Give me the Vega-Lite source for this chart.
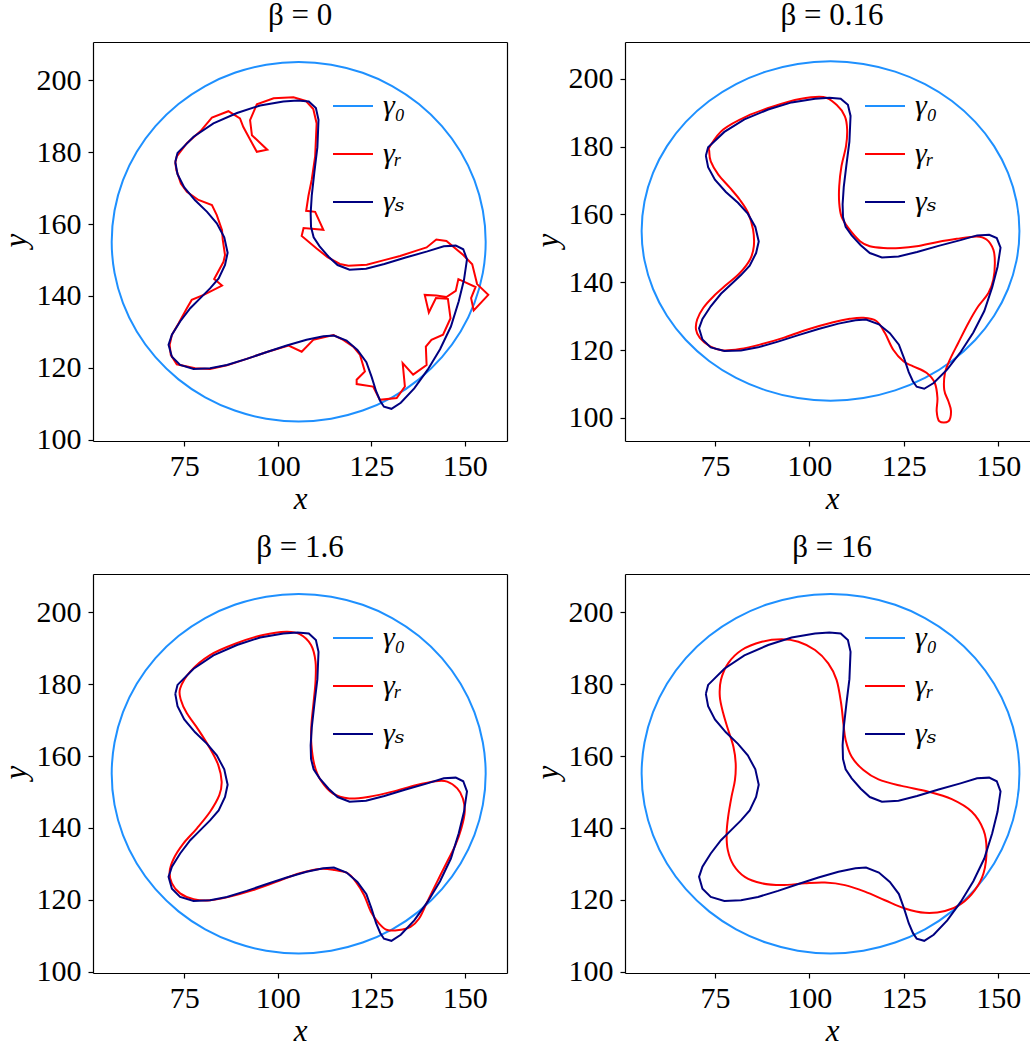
{
"$schema": "https://vega.github.io/schema/vega-lite/v6.json",
"background": "white",
"padding": {"left": 0, "top": 0, "right": 0, "bottom": 0},
"datasets": {
"circle": [
{"i":0,"x":155.6,"y":155.1},{"i":1,"x":154.84,"y":163.78},{"i":2,"x":152.58,"y":172.2},{"i":3,"x":148.9,"y":180.1},{"i":4,"x":143.9,"y":187.24},{"i":5,"x":137.74,"y":193.4},{"i":6,"x":130.6,"y":198.4},{"i":7,"x":122.7,"y":202.08},{"i":8,"x":114.28,"y":204.34},{"i":9,"x":105.6,"y":205.1},{"i":10,"x":96.92,"y":204.34},{"i":11,"x":88.5,"y":202.08},{"i":12,"x":80.6,"y":198.4},{"i":13,"x":73.46,"y":193.4},{"i":14,"x":67.3,"y":187.24},{"i":15,"x":62.3,"y":180.1},{"i":16,"x":58.62,"y":172.2},{"i":17,"x":56.36,"y":163.78},{"i":18,"x":55.6,"y":155.1},{"i":19,"x":56.36,"y":146.42},{"i":20,"x":58.62,"y":138.0},{"i":21,"x":62.3,"y":130.1},{"i":22,"x":67.3,"y":122.96},{"i":23,"x":73.46,"y":116.8},{"i":24,"x":80.6,"y":111.8},{"i":25,"x":88.5,"y":108.12},{"i":26,"x":96.92,"y":105.86},{"i":27,"x":105.6,"y":105.1},{"i":28,"x":114.28,"y":105.86},{"i":29,"x":122.7,"y":108.12},{"i":30,"x":130.6,"y":111.8},{"i":31,"x":137.74,"y":116.8},{"i":32,"x":143.9,"y":122.96},{"i":33,"x":148.9,"y":130.1},{"i":34,"x":152.58,"y":138.0},{"i":35,"x":154.84,"y":146.42}
],
"gs": [
{"i":0,"x":72.6,"y":177.3},{"i":1,"x":73.2,"y":179.8},{"i":2,"x":77.5,"y":184.3},{"i":3,"x":82.8,"y":188.0},{"i":4,"x":89.1,"y":190.9},{"i":5,"x":95.3,"y":193.0},{"i":6,"x":101.5,"y":194.1},{"i":7,"x":105.3,"y":194.4},{"i":8,"x":108.3,"y":194.1},{"i":9,"x":110.2,"y":192.3},{"i":10,"x":110.9,"y":189.0},{"i":11,"x":110.6,"y":181.4},{"i":12,"x":109.8,"y":174.5},{"i":13,"x":109.1,"y":168.0},{"i":14,"x":108.8,"y":163.0},{"i":15,"x":108.9,"y":159.2},{"i":16,"x":109.6,"y":156.3},{"i":17,"x":111.2,"y":153.8},{"i":18,"x":113.6,"y":150.9},{"i":19,"x":116.0,"y":148.6},{"i":20,"x":119.2,"y":147.3},{"i":21,"x":123.6,"y":147.6},{"i":22,"x":128.5,"y":148.9},{"i":23,"x":134.2,"y":150.7},{"i":24,"x":140.0,"y":152.4},{"i":25,"x":144.4,"y":153.8},{"i":26,"x":147.6,"y":154.0},{"i":27,"x":149.6,"y":153.0},{"i":28,"x":150.6,"y":150.2},{"i":29,"x":149.8,"y":144.5},{"i":30,"x":148.4,"y":138.5},{"i":31,"x":146.3,"y":131.5},{"i":32,"x":143.4,"y":125.2},{"i":33,"x":140.1,"y":119.5},{"i":34,"x":136.5,"y":114.3},{"i":35,"x":132.9,"y":110.3},{"i":36,"x":130.4,"y":108.6},{"i":37,"x":128.4,"y":109.2},{"i":38,"x":127.4,"y":110.8},{"i":39,"x":126.3,"y":113.5},{"i":40,"x":125.1,"y":117.5},{"i":41,"x":123.7,"y":121.6},{"i":42,"x":121.3,"y":125.0},{"i":43,"x":118.4,"y":127.6},{"i":44,"x":115.0,"y":129.0},{"i":45,"x":112.2,"y":128.8},{"i":46,"x":107.7,"y":127.8},{"i":47,"x":102.4,"y":126.2},{"i":48,"x":97.1,"y":124.4},{"i":49,"x":91.7,"y":122.5},{"i":50,"x":86.4,"y":120.8},{"i":51,"x":81.9,"y":119.9},{"i":52,"x":77.5,"y":119.7},{"i":53,"x":73.9,"y":120.8},{"i":54,"x":71.7,"y":123.1},{"i":55,"x":70.8,"y":126.4},{"i":56,"x":71.7,"y":129.2},{"i":57,"x":73.9,"y":132.9},{"i":58,"x":76.6,"y":136.6},{"i":59,"x":79.3,"y":139.4},{"i":60,"x":81.9,"y":142.1},{"i":61,"x":84.2,"y":144.9},{"i":62,"x":85.9,"y":148.6},{"i":63,"x":86.6,"y":152.0},{"i":64,"x":85.7,"y":156.3},{"i":65,"x":83.7,"y":160.2},{"i":66,"x":81.1,"y":163.4},{"i":67,"x":77.9,"y":166.6},{"i":68,"x":75.0,"y":170.2},{"i":69,"x":73.2,"y":173.9},{"i":70,"x":72.6,"y":177.3}
],
"r0": [
{"i":0,"x":72.6,"y":177.1},{"i":1,"x":73.0,"y":178.8},{"i":2,"x":75.7,"y":182.5},{"i":3,"x":79.3,"y":185.8},{"i":4,"x":82.4,"y":189.6},{"i":5,"x":86.8,"y":191.4},{"i":6,"x":89.9,"y":189.4},{"i":7,"x":90.8,"y":187.0},{"i":8,"x":92.2,"y":184.3},{"i":9,"x":94.4,"y":180.1},{"i":10,"x":97.2,"y":180.7},{"i":11,"x":93.1,"y":184.7},{"i":12,"x":92.6,"y":188.9},{"i":13,"x":94.4,"y":193.3},{"i":14,"x":98.9,"y":195.0},{"i":15,"x":104.2,"y":195.3},{"i":16,"x":107.5,"y":194.3},{"i":17,"x":109.5,"y":192.0},{"i":18,"x":110.4,"y":188.0},{"i":19,"x":110.0,"y":178.8},{"i":20,"x":109.1,"y":172.4},{"i":21,"x":108.2,"y":167.8},{"i":22,"x":107.6,"y":163.7},{"i":23,"x":110.0,"y":163.4},{"i":24,"x":112.2,"y":158.4},{"i":25,"x":106.9,"y":158.9},{"i":26,"x":106.4,"y":156.7},{"i":27,"x":110.4,"y":153.2},{"i":28,"x":113.3,"y":150.8},{"i":29,"x":116.6,"y":148.9},{"i":30,"x":118.9,"y":148.4},{"i":31,"x":123.8,"y":148.7},{"i":32,"x":128.2,"y":149.9},{"i":33,"x":132.7,"y":151.1},{"i":34,"x":137.1,"y":152.6},{"i":35,"x":139.8,"y":153.5},{"i":36,"x":142.4,"y":155.7},{"i":37,"x":145.1,"y":155.3},{"i":38,"x":149.6,"y":151.4},{"i":39,"x":152.0,"y":148.8},{"i":40,"x":153.3,"y":143.3},{"i":41,"x":156.3,"y":140.3},{"i":42,"x":152.4,"y":136.0},{"i":43,"x":151.7,"y":139.4},{"i":44,"x":152.9,"y":142.5},{"i":45,"x":148.3,"y":144.7},{"i":46,"x":147.6,"y":141.4},{"i":47,"x":145.1,"y":139.7},{"i":48,"x":142.4,"y":140.1},{"i":49,"x":139.3,"y":140.3},{"i":50,"x":140.4,"y":135.4},{"i":51,"x":142.3,"y":139.4},{"i":52,"x":145.5,"y":139.2},{"i":53,"x":146.2,"y":133.8},{"i":54,"x":144.2,"y":129.2},{"i":55,"x":141.1,"y":127.8},{"i":56,"x":139.6,"y":125.9},{"i":57,"x":139.8,"y":120.8},{"i":58,"x":136.2,"y":118.1},{"i":59,"x":133.4,"y":121.3},{"i":60,"x":134.0,"y":114.8},{"i":61,"x":131.8,"y":111.6},{"i":62,"x":127.3,"y":111.1},{"i":63,"x":125.5,"y":114.8},{"i":64,"x":121.1,"y":115.5},{"i":65,"x":121.1,"y":116.7},{"i":66,"x":123.3,"y":119.0},{"i":67,"x":122.0,"y":123.6},{"i":68,"x":120.2,"y":125.9},{"i":69,"x":117.5,"y":127.8},{"i":70,"x":114.9,"y":129.1},{"i":71,"x":109.5,"y":127.8},{"i":72,"x":106.4,"y":124.5},{"i":73,"x":102.9,"y":126.2},{"i":74,"x":97.1,"y":124.4},{"i":75,"x":91.7,"y":122.5},{"i":76,"x":86.4,"y":120.7},{"i":77,"x":81.9,"y":119.7},{"i":78,"x":77.9,"y":119.9},{"i":79,"x":73.0,"y":121.0},{"i":80,"x":71.4,"y":123.6},{"i":81,"x":71.1,"y":126.4},{"i":82,"x":71.7,"y":129.2},{"i":83,"x":73.5,"y":132.4},{"i":84,"x":75.7,"y":136.6},{"i":85,"x":77.0,"y":138.9},{"i":86,"x":80.2,"y":140.3},{"i":87,"x":85.1,"y":142.9},{"i":88,"x":83.0,"y":144.7},{"i":89,"x":85.5,"y":149.5},{"i":90,"x":85.9,"y":151.4},{"i":91,"x":85.3,"y":155.6},{"i":92,"x":85.1,"y":158.3},{"i":93,"x":83.7,"y":162.5},{"i":94,"x":82.4,"y":165.3},{"i":95,"x":78.8,"y":166.7},{"i":96,"x":75.7,"y":169.0},{"i":97,"x":74.1,"y":171.3},{"i":98,"x":72.9,"y":175.0},{"i":99,"x":72.6,"y":177.1}
],
"r1": [
{"i":0,"x":73.5,"y":178.6},{"i":1,"x":73.7,"y":180.1},{"i":2,"x":77.2,"y":185.0},{"i":3,"x":83.4,"y":188.9},{"i":4,"x":90.4,"y":191.8},{"i":5,"x":97.5,"y":194.0},{"i":6,"x":103.7,"y":194.6},{"i":7,"x":107.2,"y":192.3},{"i":8,"x":109.4,"y":188.9},{"i":9,"x":110.0,"y":185.0},{"i":10,"x":109.7,"y":180.1},{"i":11,"x":108.5,"y":174.2},{"i":12,"x":107.9,"y":168.3},{"i":13,"x":107.9,"y":163.4},{"i":14,"x":108.5,"y":159.4},{"i":15,"x":110.3,"y":156.0},{"i":16,"x":113.4,"y":152.1},{"i":17,"x":116.0,"y":150.6},{"i":18,"x":119.6,"y":150.1},{"i":19,"x":124.0,"y":150.1},{"i":20,"x":128.4,"y":150.6},{"i":21,"x":133.7,"y":151.8},{"i":22,"x":139.0,"y":152.8},{"i":23,"x":144.3,"y":153.5},{"i":24,"x":146.9,"y":152.6},{"i":25,"x":148.7,"y":149.6},{"i":26,"x":149.1,"y":145.7},{"i":27,"x":148.7,"y":140.8},{"i":28,"x":147.4,"y":136.8},{"i":29,"x":144.7,"y":132.9},{"i":30,"x":142.1,"y":128.0},{"i":31,"x":139.4,"y":122.1},{"i":32,"x":137.2,"y":117.2},{"i":33,"x":135.9,"y":113.3},{"i":34,"x":135.7,"y":108.3},{"i":35,"x":136.8,"y":104.9},{"i":36,"x":137.5,"y":102.0},{"i":37,"x":136.8,"y":99.0},{"i":38,"x":134.4,"y":99.0},{"i":39,"x":133.7,"y":102.0},{"i":40,"x":133.9,"y":105.9},{"i":41,"x":133.2,"y":110.3},{"i":42,"x":131.0,"y":113.3},{"i":43,"x":127.5,"y":115.2},{"i":44,"x":124.9,"y":116.7},{"i":45,"x":122.2,"y":120.1},{"i":46,"x":120.0,"y":125.0},{"i":47,"x":117.8,"y":128.5},{"i":48,"x":114.3,"y":129.5},{"i":49,"x":110.7,"y":129.2},{"i":50,"x":106.3,"y":128.2},{"i":51,"x":99.3,"y":126.0},{"i":52,"x":93.1,"y":123.6},{"i":53,"x":86.9,"y":121.6},{"i":54,"x":81.6,"y":120.3},{"i":55,"x":77.2,"y":119.9},{"i":56,"x":73.7,"y":121.1},{"i":57,"x":71.0,"y":123.6},{"i":58,"x":70.0,"y":126.0},{"i":59,"x":70.3,"y":129.0},{"i":60,"x":71.9,"y":132.4},{"i":61,"x":74.6,"y":135.8},{"i":62,"x":78.1,"y":139.3},{"i":63,"x":81.6,"y":142.7},{"i":64,"x":84.3,"y":146.7},{"i":65,"x":85.3,"y":150.6},{"i":66,"x":85.1,"y":155.5},{"i":67,"x":83.8,"y":160.4},{"i":68,"x":81.6,"y":164.3},{"i":69,"x":79.0,"y":167.8},{"i":70,"x":75.9,"y":171.7},{"i":71,"x":73.9,"y":175.6}
],
"r2": [
{"i":0,"x":73.9,"y":178.8},{"i":1,"x":76.6,"y":183.5},{"i":2,"x":81.9,"y":188.1},{"i":3,"x":89.0,"y":191.4},{"i":4,"x":96.1,"y":193.7},{"i":5,"x":102.3,"y":194.6},{"i":6,"x":105.9,"y":193.9},{"i":7,"x":108.9,"y":190.9},{"i":8,"x":110.1,"y":186.3},{"i":9,"x":110.1,"y":180.7},{"i":10,"x":109.6,"y":175.1},{"i":11,"x":109.0,"y":168.6},{"i":12,"x":109.0,"y":163.1},{"i":13,"x":109.8,"y":157.5},{"i":14,"x":111.4,"y":153.4},{"i":15,"x":114.7,"y":149.6},{"i":16,"x":119.1,"y":148.2},{"i":17,"x":124.5,"y":148.7},{"i":18,"x":130.7,"y":150.1},{"i":19,"x":136.9,"y":151.9},{"i":20,"x":142.2,"y":153.0},{"i":21,"x":145.3,"y":152.9},{"i":22,"x":148.0,"y":151.0},{"i":23,"x":149.5,"y":148.2},{"i":24,"x":150.0,"y":144.5},{"i":25,"x":149.1,"y":139.9},{"i":26,"x":147.5,"y":135.2},{"i":27,"x":145.3,"y":130.6},{"i":28,"x":142.6,"y":125.0},{"i":29,"x":140.0,"y":119.5},{"i":30,"x":137.8,"y":114.8},{"i":31,"x":135.5,"y":112.5},{"i":32,"x":132.4,"y":111.6},{"i":33,"x":129.3,"y":111.6},{"i":34,"x":127.1,"y":113.4},{"i":35,"x":124.9,"y":116.7},{"i":36,"x":123.1,"y":121.3},{"i":37,"x":120.9,"y":125.0},{"i":38,"x":118.7,"y":127.4},{"i":39,"x":115.2,"y":128.3},{"i":40,"x":111.2,"y":128.6},{"i":41,"x":105.9,"y":127.4},{"i":42,"x":99.6,"y":125.0},{"i":43,"x":93.4,"y":122.7},{"i":44,"x":87.2,"y":120.9},{"i":45,"x":81.9,"y":119.9},{"i":46,"x":77.5,"y":120.2},{"i":47,"x":73.9,"y":121.8},{"i":48,"x":71.7,"y":124.6},{"i":49,"x":71.1,"y":127.8},{"i":50,"x":72.2,"y":131.5},{"i":51,"x":74.8,"y":135.7},{"i":52,"x":78.4,"y":139.9},{"i":53,"x":81.9,"y":144.5},{"i":54,"x":84.4,"y":149.2},{"i":55,"x":85.0,"y":152.9},{"i":56,"x":84.1,"y":157.5},{"i":57,"x":81.9,"y":162.1},{"i":58,"x":78.8,"y":167.3},{"i":59,"x":75.7,"y":171.9},{"i":60,"x":74.1,"y":175.6}
],
"r3": [
{"i":0,"x":76.3,"y":176.5},{"i":1,"x":76.6,"y":181.2},{"i":2,"x":78.5,"y":185.8},{"i":3,"x":82.1,"y":189.5},{"i":4,"x":87.4,"y":191.8},{"i":5,"x":92.7,"y":192.5},{"i":6,"x":97.1,"y":191.8},{"i":7,"x":101.5,"y":189.5},{"i":8,"x":105.0,"y":185.8},{"i":9,"x":107.2,"y":181.2},{"i":10,"x":108.4,"y":174.7},{"i":11,"x":109.0,"y":169.1},{"i":12,"x":109.6,"y":164.5},{"i":13,"x":111.2,"y":159.8},{"i":14,"x":114.3,"y":156.1},{"i":15,"x":118.3,"y":153.5},{"i":16,"x":124.4,"y":151.7},{"i":17,"x":131.5,"y":150.1},{"i":18,"x":137.7,"y":148.0},{"i":19,"x":143.0,"y":144.5},{"i":20,"x":146.1,"y":139.4},{"i":21,"x":146.9,"y":133.9},{"i":22,"x":146.1,"y":127.4},{"i":23,"x":143.8,"y":122.7},{"i":24,"x":140.3,"y":119.0},{"i":25,"x":135.9,"y":116.9},{"i":26,"x":130.6,"y":116.4},{"i":27,"x":125.3,"y":117.6},{"i":28,"x":120.0,"y":119.9},{"i":29,"x":114.7,"y":122.3},{"i":30,"x":109.4,"y":124.1},{"i":31,"x":104.1,"y":124.8},{"i":32,"x":98.8,"y":124.6},{"i":33,"x":92.7,"y":124.1},{"i":34,"x":87.4,"y":124.6},{"i":35,"x":82.9,"y":126.4},{"i":36,"x":79.9,"y":129.7},{"i":37,"x":78.4,"y":133.9},{"i":38,"x":78.1,"y":138.5},{"i":39,"x":78.5,"y":143.1},{"i":40,"x":79.4,"y":148.7},{"i":41,"x":80.3,"y":153.3},{"i":42,"x":80.5,"y":158.0},{"i":43,"x":79.9,"y":162.6},{"i":44,"x":78.5,"y":167.3},{"i":45,"x":77.2,"y":171.9}
]
},
"columns": 2,
"spacing": {"row": 133, "column": 118},
"bounds": "flush",
"resolve": {"scale": {"x": "independent", "y": "independent", "color": "independent"}, "legend": {"color": "independent"}},
"concat": [
{
"width": 414, "height": 399,
"title": {"text": "β = 0"},
"layer": [
{"data": {"name": "circle"}, "mark": {"type": "line", "interpolate": "cardinal-closed", "strokeWidth": 2},
"encoding": {
"x": {"field": "x", "type": "quantitative", "scale": {"domain": [50.6, 161.3], "nice": false, "zero": false}, "axis": {"orient": "top", "labels": false, "ticks": false, "title": null, "domain": true}},
"y": {"field": "y", "type": "quantitative", "scale": {"domain": [99.65, 210.65], "nice": false, "zero": false}, "axis": {"orient": "right", "labels": false, "ticks": false, "title": null, "domain": true}},
"order": {"field": "i", "type": "quantitative"},
"color": {"datum": "γ₀", "type": "nominal", "scale": {"domain": ["γ₀", "γᵣ", "γₛ"], "range": ["#1e90ff", "#ff0000", "#000080"]}, "legend": {"orient": "none", "legendX": 239, "legendY": 43, "title": null}}
}},
{"data": {"name": "r0"}, "mark": {"type": "line", "strokeWidth": 2},
"encoding": {
"x": {"field": "x", "type": "quantitative", "scale": {"domain": [50.6, 161.3], "nice": false, "zero": false}, "axis": null},
"y": {"field": "y", "type": "quantitative", "scale": {"domain": [99.65, 210.65], "nice": false, "zero": false}, "axis": null},
"order": {"field": "i", "type": "quantitative"},
"color": {"datum": "γᵣ", "type": "nominal"}
}},
{"data": {"name": "gs"}, "mark": {"type": "line", "strokeWidth": 2},
"encoding": {
"x": {"field": "x", "type": "quantitative", "scale": {"domain": [50.6, 161.3], "nice": false, "zero": false}, "axis": {"orient": "bottom", "values": [75, 100, 125, 150], "title": "x", "titleX": 207, "titleY": 67.5, "titleBaseline": "alphabetic", "titleAlign": "center"}},
"y": {"field": "y", "type": "quantitative", "scale": {"domain": [99.65, 210.65], "nice": false, "zero": false}, "axis": {"orient": "left", "values": [100, 120, 140, 160, 180, 200], "title": "y", "titleX": -67.5, "titleY": 198, "titleAngle": 270, "titleBaseline": "alphabetic", "titleAlign": "center"}},
"order": {"field": "i", "type": "quantitative"},
"color": {"datum": "γₛ", "type": "nominal"}
}}
]
},
{
"width": 405, "height": 399,
"title": {"text": "β = 0.16", "dx": 4.5},
"layer": [
{"data": {"name": "circle"}, "mark": {"type": "line", "interpolate": "cardinal-closed", "strokeWidth": 2},
"encoding": {
"x": {"field": "x", "type": "quantitative", "scale": {"domain": [51.2, 158.4], "nice": false, "zero": false}, "axis": {"orient": "top", "labels": false, "ticks": false, "title": null, "domain": true}},
"y": {"field": "y", "type": "quantitative", "scale": {"domain": [93.2, 210.8], "nice": false, "zero": false}, "axis": {"orient": "right", "labels": false, "ticks": false, "title": null, "domain": false}},
"order": {"field": "i", "type": "quantitative"},
"color": {"datum": "γ₀", "type": "nominal", "scale": {"domain": ["γ₀", "γᵣ", "γₛ"], "range": ["#1e90ff", "#ff0000", "#000080"]}, "legend": {"orient": "none", "legendX": 239, "legendY": 43, "title": null}}
}},
{"data": {"name": "r1"}, "mark": {"type": "line", "interpolate": "cardinal-closed", "strokeWidth": 2},
"encoding": {
"x": {"field": "x", "type": "quantitative", "scale": {"domain": [51.2, 158.4], "nice": false, "zero": false}, "axis": null},
"y": {"field": "y", "type": "quantitative", "scale": {"domain": [93.2, 210.8], "nice": false, "zero": false}, "axis": null},
"order": {"field": "i", "type": "quantitative"},
"color": {"datum": "γᵣ", "type": "nominal"}
}},
{"data": {"name": "gs"}, "mark": {"type": "line", "strokeWidth": 2},
"encoding": {
"x": {"field": "x", "type": "quantitative", "scale": {"domain": [51.2, 158.4], "nice": false, "zero": false}, "axis": {"orient": "bottom", "values": [75, 100, 125, 150], "title": "x", "titleX": 207, "titleY": 67.5, "titleBaseline": "alphabetic", "titleAlign": "center"}},
"y": {"field": "y", "type": "quantitative", "scale": {"domain": [93.2, 210.8], "nice": false, "zero": false}, "axis": {"orient": "left", "values": [100, 120, 140, 160, 180, 200], "title": "y", "titleX": -67.5, "titleY": 198, "titleAngle": 270, "titleBaseline": "alphabetic", "titleAlign": "center"}},
"order": {"field": "i", "type": "quantitative"},
"color": {"datum": "γₛ", "type": "nominal"}
}}
]
},
{
"width": 414, "height": 399,
"title": {"text": "β = 1.6"},
"layer": [
{"data": {"name": "circle"}, "mark": {"type": "line", "interpolate": "cardinal-closed", "strokeWidth": 2},
"encoding": {
"x": {"field": "x", "type": "quantitative", "scale": {"domain": [50.6, 161.3], "nice": false, "zero": false}, "axis": {"orient": "top", "labels": false, "ticks": false, "title": null, "domain": true}},
"y": {"field": "y", "type": "quantitative", "scale": {"domain": [99.65, 210.65], "nice": false, "zero": false}, "axis": {"orient": "right", "labels": false, "ticks": false, "title": null, "domain": true}},
"order": {"field": "i", "type": "quantitative"},
"color": {"datum": "γ₀", "type": "nominal", "scale": {"domain": ["γ₀", "γᵣ", "γₛ"], "range": ["#1e90ff", "#ff0000", "#000080"]}, "legend": {"orient": "none", "legendX": 239, "legendY": 43, "title": null}}
}},
{"data": {"name": "r2"}, "mark": {"type": "line", "interpolate": "cardinal-closed", "strokeWidth": 2},
"encoding": {
"x": {"field": "x", "type": "quantitative", "scale": {"domain": [50.6, 161.3], "nice": false, "zero": false}, "axis": null},
"y": {"field": "y", "type": "quantitative", "scale": {"domain": [99.65, 210.65], "nice": false, "zero": false}, "axis": null},
"order": {"field": "i", "type": "quantitative"},
"color": {"datum": "γᵣ", "type": "nominal"}
}},
{"data": {"name": "gs"}, "mark": {"type": "line", "strokeWidth": 2},
"encoding": {
"x": {"field": "x", "type": "quantitative", "scale": {"domain": [50.6, 161.3], "nice": false, "zero": false}, "axis": {"orient": "bottom", "values": [75, 100, 125, 150], "title": "x", "titleX": 207, "titleY": 67.5, "titleBaseline": "alphabetic", "titleAlign": "center"}},
"y": {"field": "y", "type": "quantitative", "scale": {"domain": [99.65, 210.65], "nice": false, "zero": false}, "axis": {"orient": "left", "values": [100, 120, 140, 160, 180, 200], "title": "y", "titleX": -67.5, "titleY": 198, "titleAngle": 270, "titleBaseline": "alphabetic", "titleAlign": "center"}},
"order": {"field": "i", "type": "quantitative"},
"color": {"datum": "γₛ", "type": "nominal"}
}}
]
},
{
"width": 405, "height": 399,
"title": {"text": "β = 16", "dx": 4.5},
"layer": [
{"data": {"name": "circle"}, "mark": {"type": "line", "interpolate": "cardinal-closed", "strokeWidth": 2},
"encoding": {
"x": {"field": "x", "type": "quantitative", "scale": {"domain": [51.2, 158.4], "nice": false, "zero": false}, "axis": {"orient": "top", "labels": false, "ticks": false, "title": null, "domain": true}},
"y": {"field": "y", "type": "quantitative", "scale": {"domain": [99.65, 210.65], "nice": false, "zero": false}, "axis": {"orient": "right", "labels": false, "ticks": false, "title": null, "domain": false}},
"order": {"field": "i", "type": "quantitative"},
"color": {"datum": "γ₀", "type": "nominal", "scale": {"domain": ["γ₀", "γᵣ", "γₛ"], "range": ["#1e90ff", "#ff0000", "#000080"]}, "legend": {"orient": "none", "legendX": 239, "legendY": 43, "title": null}}
}},
{"data": {"name": "r3"}, "mark": {"type": "line", "interpolate": "cardinal-closed", "strokeWidth": 2},
"encoding": {
"x": {"field": "x", "type": "quantitative", "scale": {"domain": [51.2, 158.4], "nice": false, "zero": false}, "axis": null},
"y": {"field": "y", "type": "quantitative", "scale": {"domain": [99.65, 210.65], "nice": false, "zero": false}, "axis": null},
"order": {"field": "i", "type": "quantitative"},
"color": {"datum": "γᵣ", "type": "nominal"}
}},
{"data": {"name": "gs"}, "mark": {"type": "line", "strokeWidth": 2},
"encoding": {
"x": {"field": "x", "type": "quantitative", "scale": {"domain": [51.2, 158.4], "nice": false, "zero": false}, "axis": {"orient": "bottom", "values": [75, 100, 125, 150], "title": "x", "titleX": 207, "titleY": 67.5, "titleBaseline": "alphabetic", "titleAlign": "center"}},
"y": {"field": "y", "type": "quantitative", "scale": {"domain": [99.65, 210.65], "nice": false, "zero": false}, "axis": {"orient": "left", "values": [100, 120, 140, 160, 180, 200], "title": "y", "titleX": -67.5, "titleY": 198, "titleAngle": 270, "titleBaseline": "alphabetic", "titleAlign": "center"}},
"order": {"field": "i", "type": "quantitative"},
"color": {"datum": "γₛ", "type": "nominal"}
}}
]
}
],
"config": {
"view": {"stroke": null},
"font": "Liberation Serif, DejaVu Serif, serif",
"axis": {"grid": false, "domainColor": "#000", "domainWidth": 1.2, "tickColor": "#000", "tickWidth": 1.2, "tickSize": 5, "labelColor": "#000", "labelFont": "Liberation Serif, DejaVu Serif, serif", "labelFontSize": 30, "labelOverlap": false, "labelFlush": false, "titleColor": "#000", "titleFont": "Liberation Serif, DejaVu Serif, serif", "titleFontSize": 31, "titleFontStyle": "italic", "titleFontWeight": "normal"},
"axisBottom": {"labelPadding": 5},
"axisLeft": {"labelPadding": 7},
"legend": {"labelFont": "Liberation Serif, DejaVu Serif, serif", "labelFontSize": 30, "labelFontStyle": "italic", "labelColor": "#000", "symbolType": "stroke", "symbolSize": 1600, "symbolStrokeWidth": 2, "rowPadding": 12, "labelOffset": 9, "padding": 0},
"title": {"font": "Liberation Serif, DejaVu Serif, serif", "fontSize": 31, "fontWeight": "normal", "color": "#000", "baseline": "alphabetic", "offset": 10, "anchor": "middle"}
}
}
